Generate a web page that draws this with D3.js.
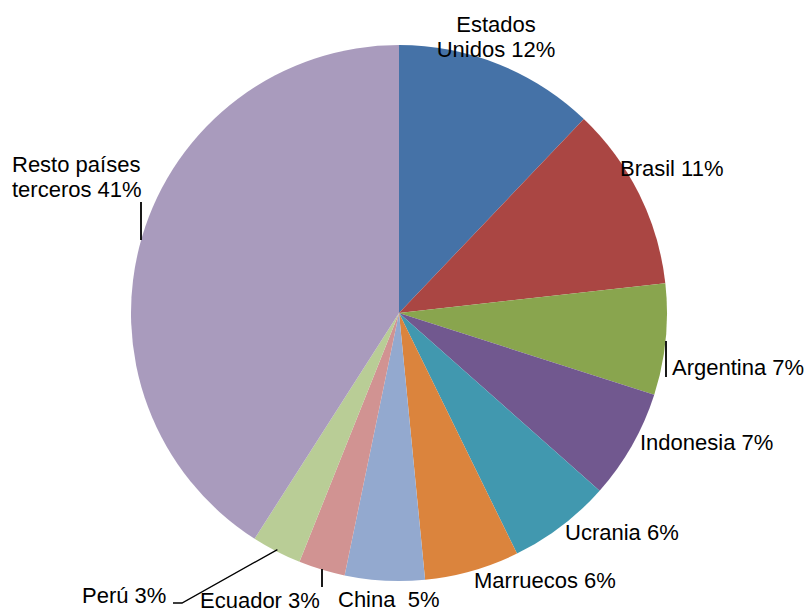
<!DOCTYPE html>
<html>
<head>
<meta charset="utf-8">
<script src="https://cdn.jsdelivr.net/npm/d3@7"></script>
<style>
  body { margin: 0; background: #fff; }
  text { font-family: "Liberation Sans", Arial, sans-serif; font-size: 22px; fill: #000; white-space: pre; }
</style>
</head>
<body>
<svg id="chart" width="810" height="612"></svg>
<script>
var countries = ["Estados Unidos", "Brasil", "Argentina", "Indonesia", "Ucrania", "Marruecos", "China", "Ecuador", "Perú", "Resto países terceros"];
var shares = [12.1, 11.1, 6.7, 6.6, 6.2, 5.7, 4.8, 2.8, 3.0, 40.9];
var labels = [["Estados", "Unidos 12%"], ["Brasil 11%"], ["Argentina 7%"], ["Indonesia 7%"], ["Ucrania 6%"], ["Marruecos 6%"], ["China  5%"], ["Ecuador 3%"], ["Perú 3%"], ["Resto países", "terceros 41%"]];
var colors = ["#4572A7", "#AA4643", "#89A54E", "#71588F", "#4198AF", "#DB843D", "#93A9CF", "#D19392", "#B9CD96", "#A99BBD"];

// label layout: x, baseline y, anchor
var labelPos = [
  [496, 32, "middle"], [620, 176, "start"], [672, 375, "start"], [640, 450, "start"],
  [565, 540, "start"], [474, 588, "start"], [338, 607, "start"], [200, 608, "start"],
  [82, 603, "start"], [12, 172, "start"]
];

var svg = d3.select('#chart');
var cx = 399, cy = 313, r = 268;

var pie = d3.pie().sort(null).value(function(d) { return d; });
var arc = d3.arc().innerRadius(0).outerRadius(r);
var arcs = pie(shares);

var g = svg.append('g').attr('transform', 'translate(' + cx + ',' + cy + ')');
g.selectAll('path')
  .data(arcs)
  .enter().append('path')
  .attr('d', arc)
  .attr('fill', function(d, i) { return colors[i]; });

// leader lines
var line = d3.line();
var peru = arcs[8];
var mid = (peru.startAngle + peru.endAngle) / 2;
var p0 = [cx + Math.sin(mid) * (r - 2), cy - Math.cos(mid) * (r - 2)];
svg.append('path').attr('d', line([p0, [182, 603], [173, 603]]))
  .attr('fill', 'none').attr('stroke', '#000').attr('stroke-width', 1.3);
svg.append('path').attr('d', line([[322, 569], [322, 587]])).attr('stroke', '#000').attr('stroke-width', 1.8);
svg.append('path').attr('d', line([[141, 202], [141, 240]])).attr('stroke', '#000').attr('stroke-width', 1.8);
svg.append('path').attr('d', line([[666, 341], [666, 377]])).attr('stroke', '#000').attr('stroke-width', 1.8);

labels.forEach(function(lines, i) {
  var p = labelPos[i];
  var t = svg.append('text')
    .attr('x', p[0]).attr('y', p[1])
    .attr('text-anchor', p[2]);
  lines.forEach(function(s, k) {
    t.append('tspan').attr('x', p[0]).attr('dy', k === 0 ? 0 : 25).text(s);
  });
});
</script>
</body>
</html>
